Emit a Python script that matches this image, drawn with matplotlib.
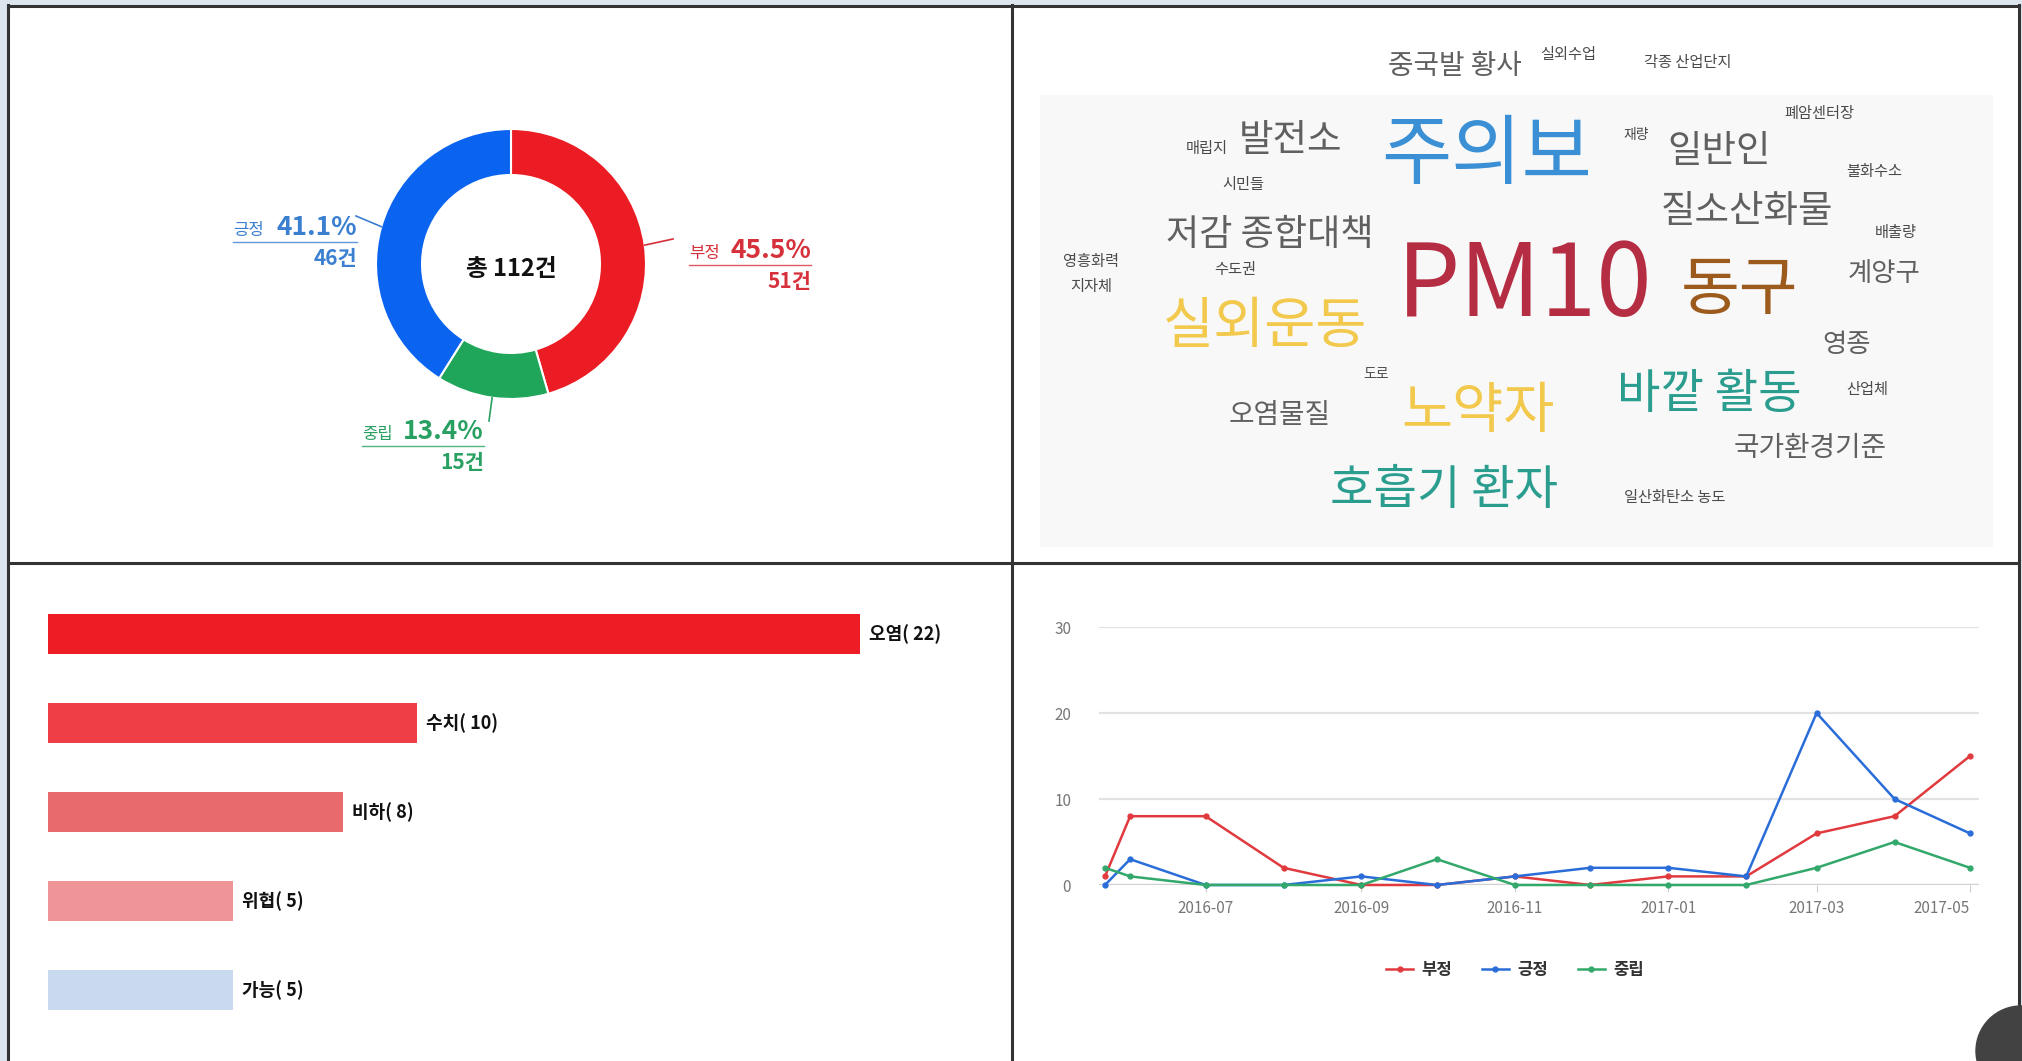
import numpy as np
import pandas as pd
import matplotlib
matplotlib.use('Agg')
import matplotlib.pyplot as plt
import matplotlib.dates as mdates
from matplotlib.patches import Rectangle, Circle

plt.rcParams['font.family'] = ['Noto Sans CJK KR', 'DejaVu Sans']

W, H = 2022, 1061

# --- data ---------------------------------------------------------------
# sentiment donut
sent_labels = ['부정', '중립', '긍정']
sent_counts = [51, 15, 46]

# keyword bars
kw_labels = ['오염', '수치', '비하', '위협', '가능']
kw_counts = [22, 10, 8, 5, 5]

# monthly trend
months = ['2016-05-22', '2016-06-01', '2016-07-01', '2016-08-01', '2016-09-01',
          '2016-10-01', '2016-11-01', '2016-12-01', '2017-01-01', '2017-02-01',
          '2017-03-01', '2017-04-01', '2017-05-01']
neg = [1, 8, 8, 2, 0, 0, 1, 0, 1, 1, 6, 8, 15]
pos = [0, 3, 0, 0, 1, 0, 1, 2, 2, 1, 20, 10, 6]
neu = [2, 1, 0, 0, 0, 3, 0, 0, 0, 0, 2, 5, 2]
tick_months = ['2016-07', '2016-09', '2016-11', '2017-01', '2017-03', '2017-05']

# word cloud
cloud_words = ['중국발 황사', '실외수업', '각종 산업단지', '주의보', '발전소', '매립지',
               '시민들', '재량', '일반인', '폐암센터장', '불화수소', '질소산화물',
               '배출량', '저감 종합대책', '영흥화력', '지자체', '수도권', 'PM10',
               '동구', '계양구', '실외운동', '영종', '도로', '오염물질', '노약자',
               '바깥 활동', '산업체', '국가환경기준', '호흡기 환자', '일산화탄소 농도']

# --- styles / layout ------------------------------------------------------
GRAY, DARK = '#606060', '#4a4a4a'
BLUE, CRIM, BROWN = '#3b8fd4', '#b52d43', '#9c5a1c'
YEL, TEAL = '#f2c94c', '#2a9d8f'
# (x, y, fontsize, colour) in picture pixels
cloud_layout = [
    (1455, 64, 20, GRAY), (1568, 53, 11, DARK), (1688, 61, 11, DARK),
    (1487, 150, 55, BLUE), (1290, 137, 27, GRAY), (1207, 147, 11, DARK),
    (1243, 183, 11, DARK), (1636, 134, 10, DARK), (1719, 148, 27, GRAY),
    (1819, 112, 11, DARK), (1874, 170, 11, DARK), (1747, 208, 27, GRAY),
    (1896, 231, 11, DARK), (1270, 232, 26, GRAY), (1091, 260, 11, DARK),
    (1091, 285, 11, DARK), (1235, 268, 11, DARK), (1525, 279, 72, CRIM),
    (1740, 285, 46, BROWN), (1884, 271, 19, GRAY), (1265, 322, 40, YEL),
    (1847, 342, 19, GRAY), (1376, 373, 10, DARK), (1280, 413, 20, GRAY),
    (1478, 407, 40, YEL), (1709, 391, 34, TEAL), (1867, 388, 11, DARK),
    (1810, 446, 20, GRAY), (1444, 487, 34, TEAL), (1675, 496, 11, DARK),
]

slice_colors = ['#ec1c24', '#20a65a', '#0a64f0']
label_colors = ['#d6303a', '#27a061', '#3a7fd0']
# left, right, underline y, leader end
label_layout = [(689, 811, 265, (673, 239)),
                (362, 484, 446, (489, 421)),
                (233, 357, 242, (356, 216))]

bar_colors = ['#ee1c25', '#ef3e45', '#e86a6c', '#f09597', '#c9d9ef']

fig = plt.figure(figsize=(W / 100, H / 100), dpi=100)
fig.patch.set_facecolor('#dde5ef')

# background axes in picture pixels
bg = fig.add_axes([0, 0, 1, 1])
bg.add_patch(Rectangle((7, 5), 2014, 1060, facecolor='white', edgecolor='none', zorder=0))
bg.add_patch(Rectangle((1040, 95), 953, 452, facecolor='#f8f8f8', edgecolor='none', zorder=0))
lc = '#333333'
bg.plot([8, 8], [5, H + 5], color=lc, lw=2.2, zorder=1)
bg.plot([2019, 2019], [5, H + 5], color=lc, lw=2.2, zorder=1)
bg.plot([8, 2019], [6, 6], color=lc, lw=2.2, zorder=1)
bg.plot([1012, 1012], [5, H + 5], color=lc, lw=2.2, zorder=1)
bg.plot([8, 2019], [563, 563], color=lc, lw=2.2, zorder=1)

# donut
cx, cy, R = 511, 264, 135
wedges, _ = bg.pie(sent_counts, colors=slice_colors, startangle=-90, counterclock=True,
                   center=(cx, cy), radius=R,
                   wedgeprops=dict(width=46, edgecolor='white', linewidth=1.5))
total = sum(sent_counts)
for w, lab, n, col, (xl, xr, uy, lend) in zip(wedges, sent_labels, sent_counts,
                                              label_colors, label_layout):
    mid = np.deg2rad((w.theta1 + w.theta2) / 2)
    p0 = (cx + R * np.cos(mid), cy + R * np.sin(mid))
    bg.plot([p0[0], lend[0]], [p0[1], lend[1]], color=col, lw=1.2, zorder=3)
    bg.plot([xl, xr], [uy, uy], color=col, lw=1.0, alpha=0.8, zorder=3)
    bg.text(xl, uy - 7, lab, color=col, fontsize=12, ha='left', va='baseline')
    bg.text(xr, uy - 7, f'{n / total * 100:.1f}%', color=col, fontsize=19,
            fontweight='bold', ha='right', va='baseline')
    bg.text(xr, uy + 23, f'{n}건', color=col, fontsize=15, fontweight='bold',
            ha='right', va='baseline')
bg.text(cx, cy + 5, f'총 {total}건', fontsize=17, fontweight='bold', color='#111111',
        ha='center', va='center')

# word cloud
for word, (x, y, fs, col) in zip(cloud_words, cloud_layout):
    bg.text(x, y + fs * 0.12, word, fontsize=fs, color=col, ha='center', va='center')

# decoration in the corner
bg.add_patch(Circle((2021, 1051), 45, color='#424242', zorder=5))

bg.set_xlim(0, W)
bg.set_ylim(H, 0)
bg.set_axis_off()

# keyword bars
px_unit = 36.9
axb = fig.add_axes([48 / W, 0, 959 / W, 498 / H])
axb.patch.set_alpha(0)
ypos = np.arange(len(kw_labels))
axb.barh(ypos, kw_counts, height=0.44, color=bar_colors)
for i, (lab, v) in enumerate(zip(kw_labels, kw_counts)):
    axb.text(v + 9 / px_unit, i, f'{lab}( {v})', fontsize=13, fontweight='bold',
             color='#111111', ha='left', va='center')
axb.set_xlim(0, 959 / px_unit)
axb.set_ylim(4.798, -0.798)
axb.set_axis_off()

# trend lines
axl = fig.add_axes([1099 / W, 1 - 885 / H, 880 / W, 258 / H])
axl.patch.set_alpha(0)
xd = mdates.date2num(pd.to_datetime(months))
l1, = axl.plot(xd, neg, color='#e03a3e', lw=1.8, marker='o', ms=3.5, clip_on=False, zorder=3)
l2, = axl.plot(xd, pos, color='#2a6dd9', lw=1.8, marker='o', ms=3.5, clip_on=False, zorder=3)
l3, = axl.plot(xd, neu, color='#33a86b', lw=1.8, marker='o', ms=3.5, clip_on=False, zorder=3)
ppd = 764 / 304
axl.set_xlim(xd[0] - 6 / ppd, xd[-1] + 9 / ppd)
axl.set_ylim(0, 30)
axl.set_yticks([0, 10, 20, 30])
axl.yaxis.grid(True, color='#e2e2e2', lw=1.6)
axl.set_axisbelow(True)
for s in axl.spines.values():
    s.set_visible(False)
axl.axhline(0, color='#d0d0d0', lw=1.6, zorder=1)
axl.tick_params(axis='y', length=0, pad=20, labelsize=11, labelcolor='#777777')
ticks = mdates.date2num(pd.to_datetime(tick_months))
axl.set_xticks(ticks)
axl.set_xticklabels(tick_months)
axl.tick_params(axis='x', length=5, color='#cccccc', pad=6, labelsize=11, labelcolor='#777777')
axl.get_xticklabels()[-1].set_ha('right')
axl.get_xticklabels()[-1].set_x(ticks[-1])
fig.legend([l1, l2, l3], ['부정', '긍정', '중립'], loc='center',
           bbox_to_anchor=(1515 / W, 1 - 970 / H), bbox_transform=fig.transFigure,
           ncol=3, frameon=False, handlelength=1.6, columnspacing=1.8,
           handletextpad=0.5, prop={'weight': 'bold', 'size': 12}, labelcolor='#333333')

fig.savefig('out.png', dpi=100)
